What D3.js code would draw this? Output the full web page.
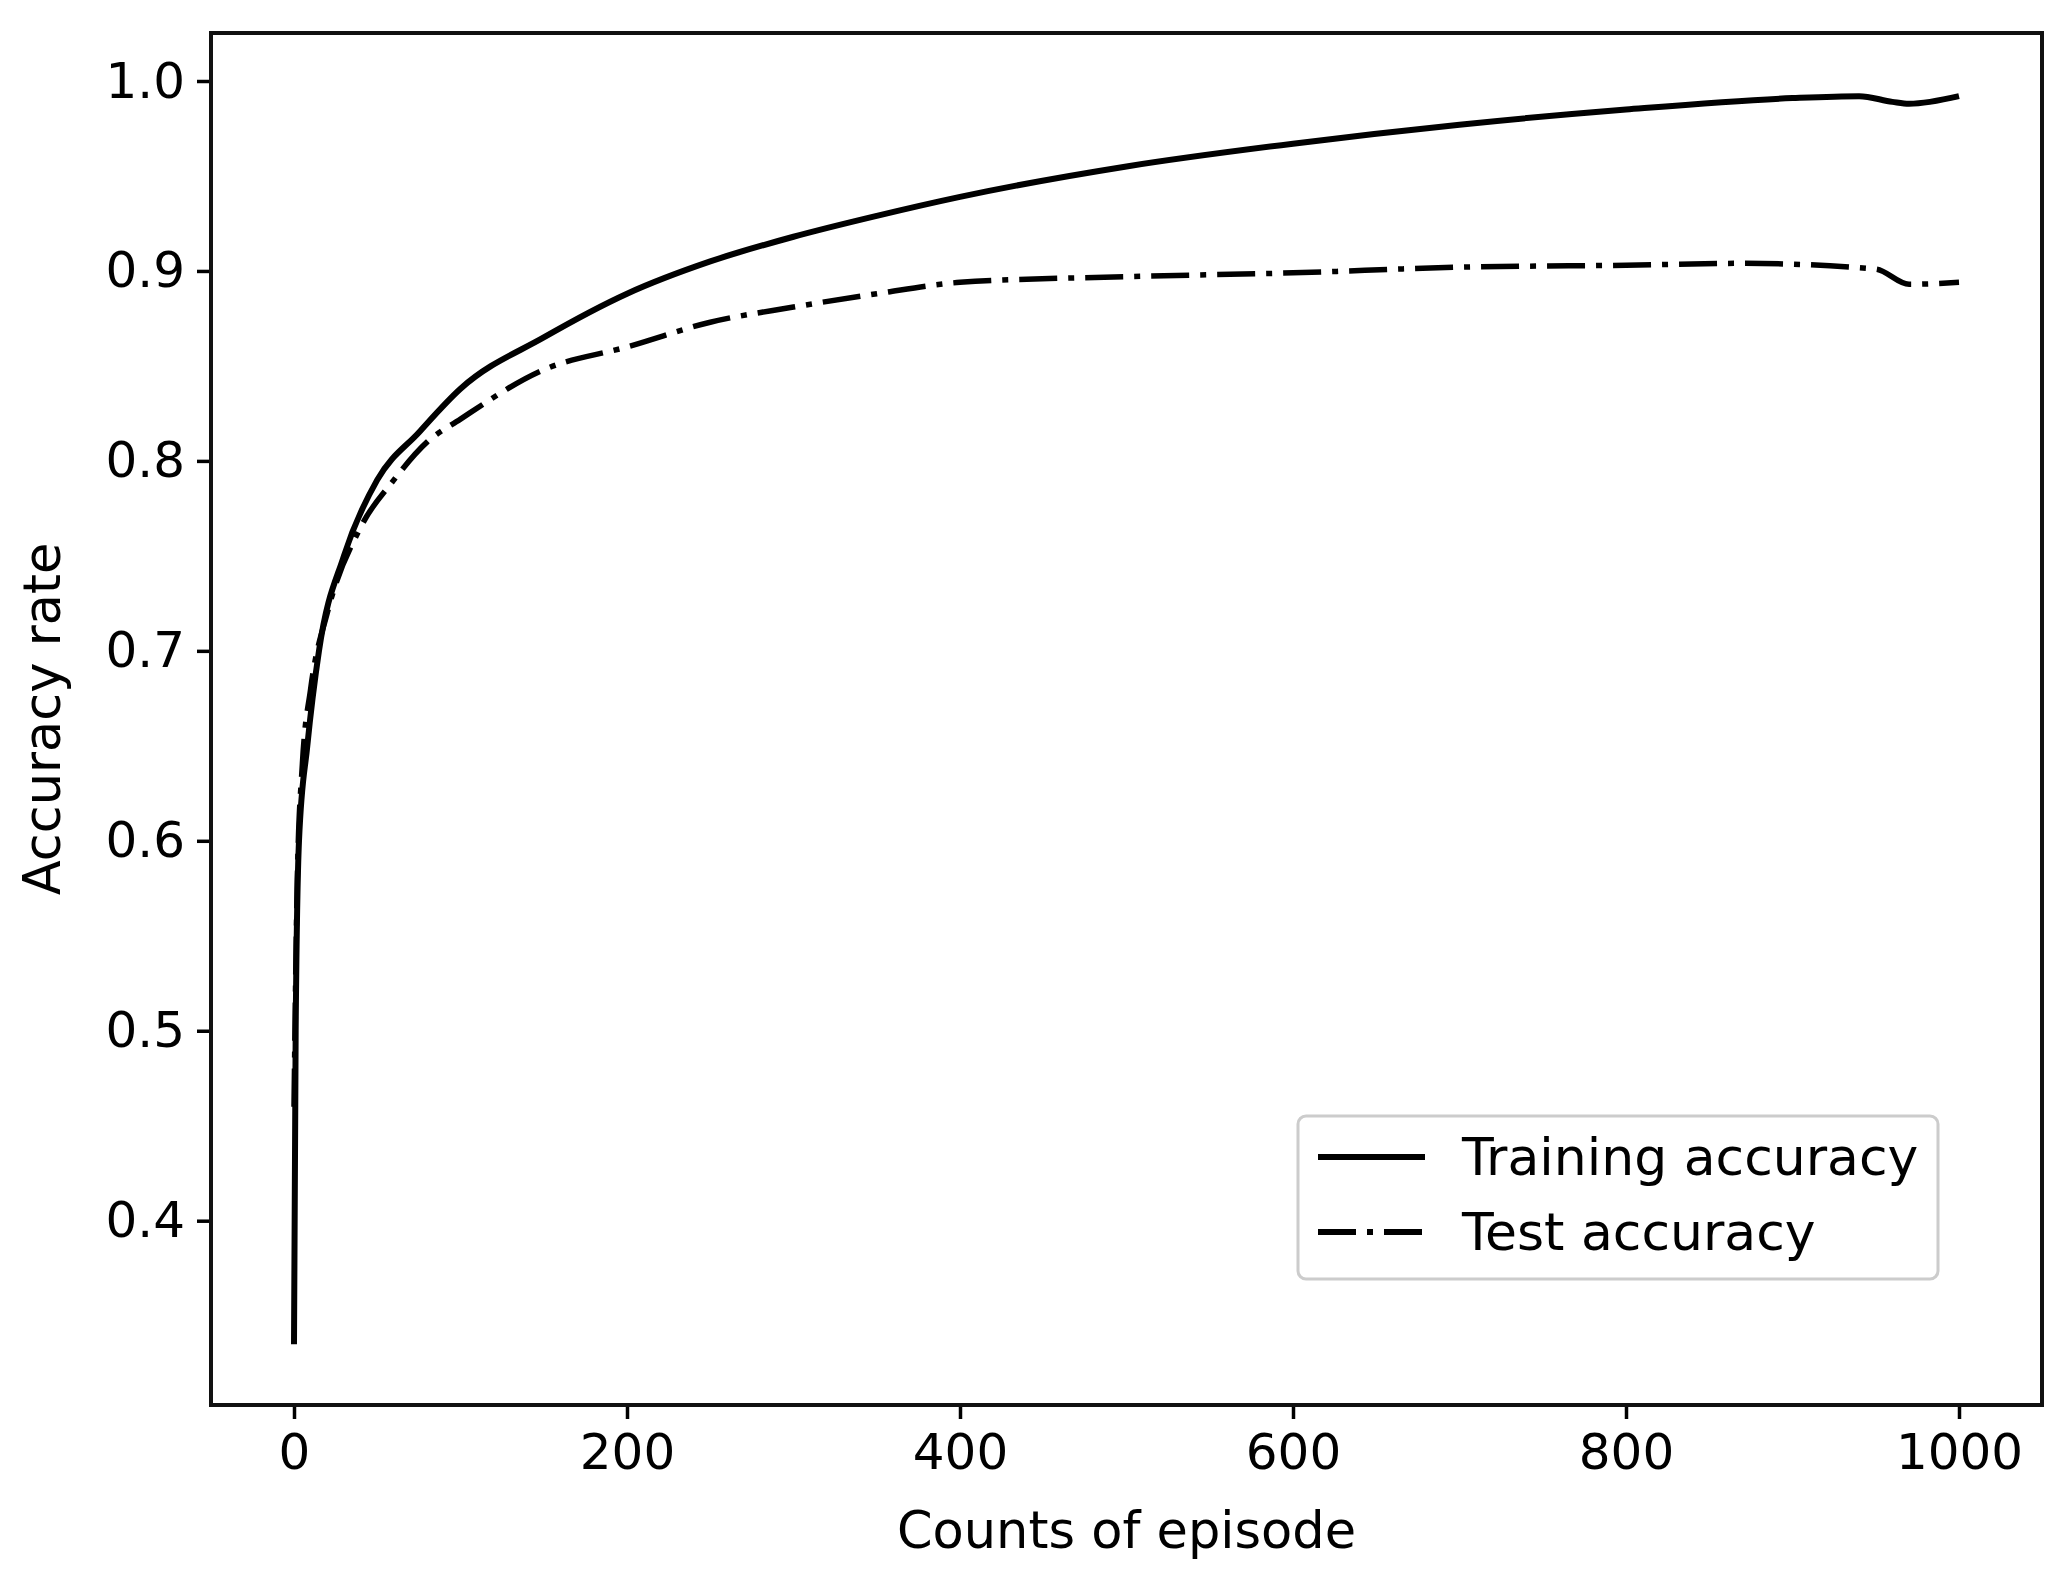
<!DOCTYPE html><html><head><meta charset="utf-8"><script src="https://cdn.jsdelivr.net/npm/d3@7"></script>
<style>body{margin:0;background:#fff}text{font-family:"DejaVu Sans";fill:#000}</style></head><body>
<svg id="c" width="2071" height="1595"></svg>
<script>
const trainX=[0,1,3,8,15,30,50,75,100,150,200,250,300,350,400,500,600,700,800,900,940,960,970,1000];
const trainY=[0.335,0.5,0.6,0.65,0.7,0.75,0.79,0.815,0.838,0.865,0.888,0.905,0.918,0.929,0.939,0.955,0.967,0.977,0.985,0.991,0.992,0.989,0.988,0.992];
const testX=[0,2,5,10,20,40,60,80,100,150,200,250,300,350,400,500,600,700,800,870,950,970,1000];
const testY=[0.46,0.58,0.64,0.68,0.72,0.765,0.79,0.81,0.822,0.848,0.86,0.873,0.881,0.888,0.894,0.897,0.899,0.902,0.903,0.904,0.901,0.893,0.894];
const xTicks=[0,200,400,600,800,1000];
const yTicks=[0.4,0.5,0.6,0.7,0.8,0.9,1.0];
const labels=["Training accuracy","Test accuracy"];
const svg=d3.select("#c");
const L=211,R=2042,T=33,B=1405;
const x=d3.scaleLinear().domain([0,1000]).range([294,1959]);
const y=d3.scaleLinear().domain([0.4,1.0]).range([1220.7,81]);
const xa=svg.append("g").attr("transform",`translate(0,${B})`).call(d3.axisBottom(x).tickValues(xTicks).tickSize(14).tickPadding(12).tickFormat(d3.format("d")));
const ya=svg.append("g").attr("transform",`translate(${L},0)`).call(d3.axisLeft(y).tickValues(yTicks).tickSize(14).tickPadding(12).tickFormat(d3.format(".1f")));
[xa,ya].forEach(a=>{a.select(".domain").remove();a.selectAll("line").attr("stroke","#000").attr("stroke-width",3.5);a.selectAll("text").attr("font-size",50).attr("font-family","DejaVu Sans");});
xa.selectAll("text").attr("dy","0.75em");
const line=d3.line().x(d=>x(d[0])).y(d=>y(d[1])).curve(d3.curveMonotoneX);
svg.append("path").datum(testX.map((v,i)=>[v,testY[i]])).attr("d",line).attr("fill","none").attr("stroke","#000").attr("stroke-width",5.5).attr("stroke-dasharray","38,11,6,11");
svg.append("path").datum(trainX.map((v,i)=>[v,trainY[i]])).attr("d",line).attr("fill","none").attr("stroke","#000").attr("stroke-width",6);
svg.append("rect").attr("x",L).attr("y",T).attr("width",R-L).attr("height",B-T).attr("fill","none").attr("stroke","#111").attr("stroke-width",4);
svg.append("text").attr("x",(L+R)/2).attr("y",1548).attr("text-anchor","middle").attr("font-size",51).text("Counts of episode");
svg.append("text").attr("transform",`translate(60,${(T+B)/2}) rotate(-90)`).attr("text-anchor","middle").attr("font-size",51).text("Accuracy rate");
const lg=svg.append("g");
lg.append("rect").attr("x",1298).attr("y",1116).attr("width",640).attr("height",163).attr("rx",8).attr("fill","#fff").attr("stroke","#ccc").attr("stroke-width",3);
[0,1].forEach(i=>{const yy=1157+i*75;
 lg.append("line").attr("x1",1318).attr("x2",1425).attr("y1",yy).attr("y2",yy).attr("stroke","#000").attr("stroke-width",6).attr("stroke-dasharray",i?"38,11,6,11":null);
 lg.append("text").attr("x",1462).attr("y",yy).attr("dy","0.35em").attr("font-size",52).text(labels[i]);});
</script></body></html>
